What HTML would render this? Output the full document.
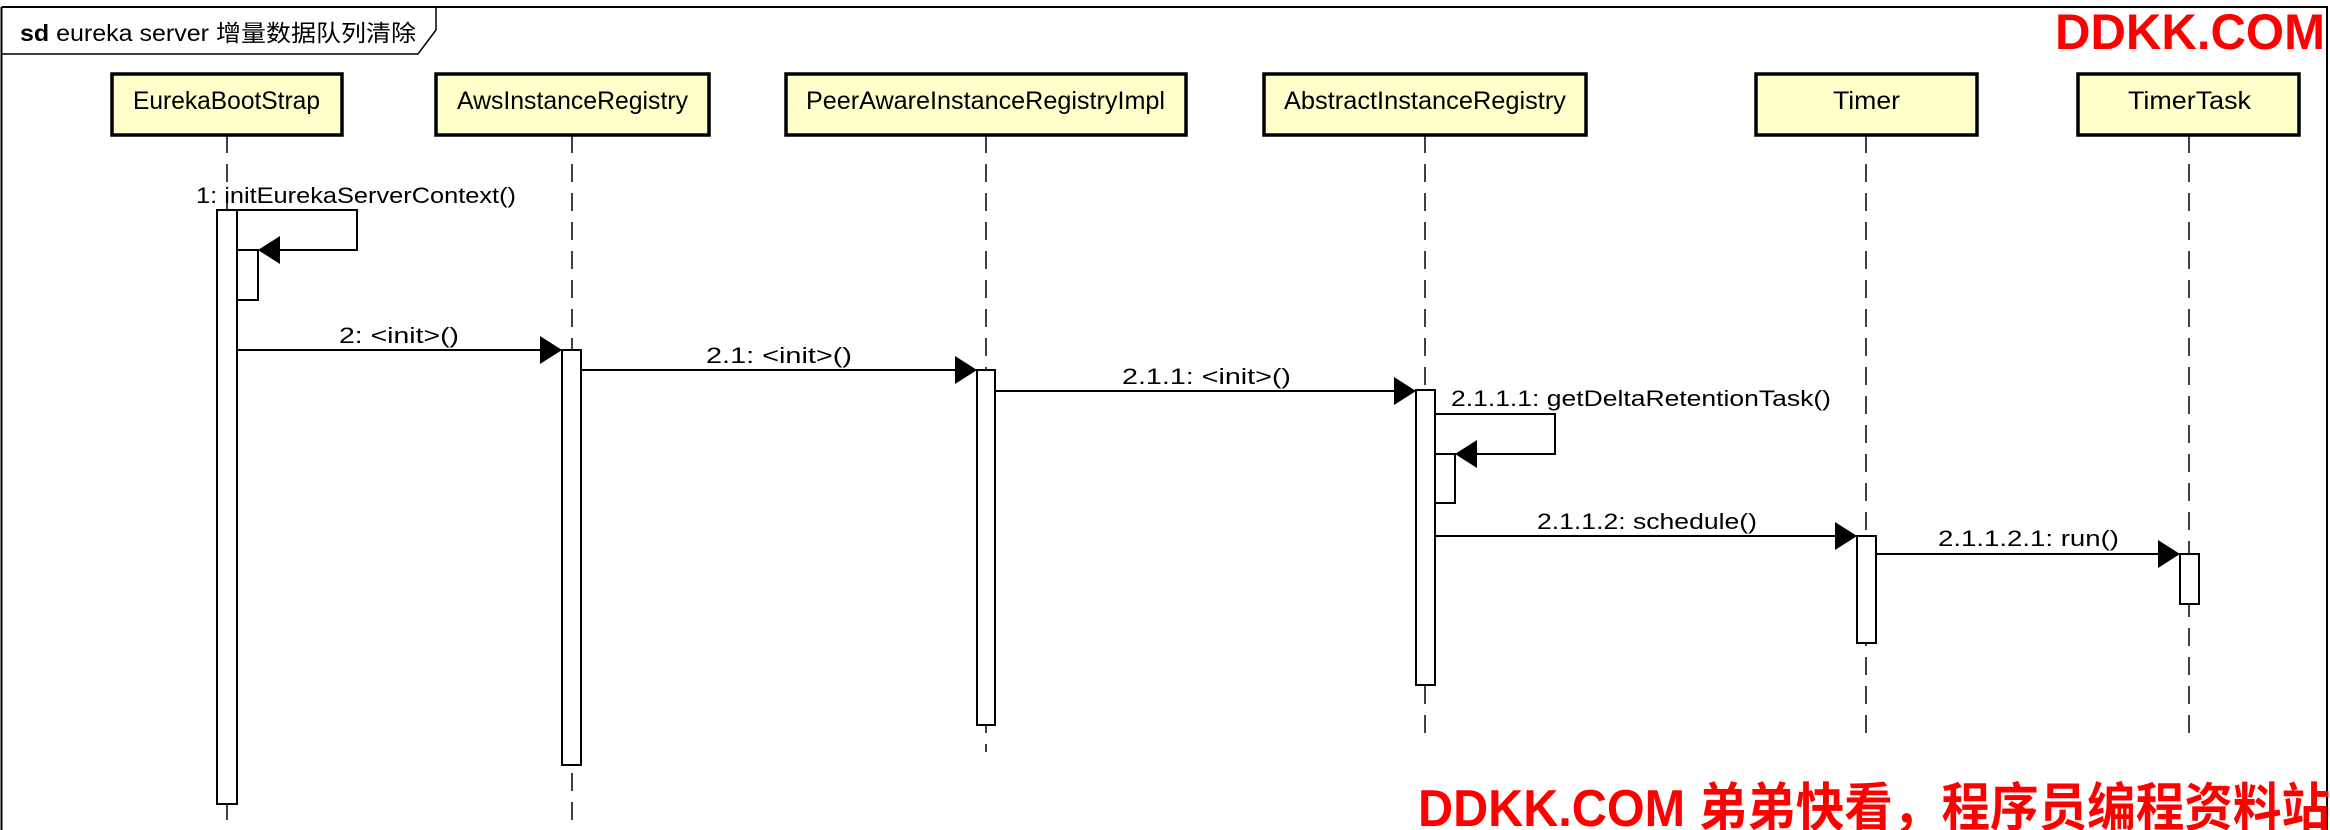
<!DOCTYPE html>
<html><head><meta charset="utf-8"><style>html,body{margin:0;padding:0;background:#fff}svg{display:block}</style></head>
<body>
<svg width="2330" height="830" viewBox="0 0 2330 830" xmlns="http://www.w3.org/2000/svg" font-family="'Liberation Sans','Noto Sans CJK SC',sans-serif">
<rect width="2330" height="830" fill="#fff"/>
<path d="M1.5 7 H2327 V840 M1.5 7 V840" fill="none" stroke="#000" stroke-width="2"/>
<path d="M1.5 54 H418 L436 30 V7" fill="none" stroke="#000" stroke-width="1.5"/>
<text x="20" y="41" font-size="23" textLength="396" lengthAdjust="spacingAndGlyphs"><tspan font-weight="bold">sd</tspan> eureka server 增量数据队列清除</text>

<g stroke="#000" stroke-width="1.5" stroke-dasharray="18,11" fill="none">
<line x1="227" y1="135" x2="227" y2="830"/>
<line x1="572" y1="135" x2="572" y2="830"/>
<line x1="986" y1="135" x2="986" y2="752"/>
<line x1="1425" y1="135" x2="1425" y2="735"/>
<line x1="1866" y1="135" x2="1866" y2="735"/>
<line x1="2189" y1="135" x2="2189" y2="735"/>
</g>

<g fill="#ffffcc" stroke="#000" stroke-width="3.5">
<rect x="112" y="74" width="230" height="61"/>
<rect x="436" y="74" width="273" height="61"/>
<rect x="786" y="74" width="400" height="61"/>
<rect x="1264" y="74" width="322" height="61"/>
<rect x="1756" y="74" width="221" height="61"/>
<rect x="2078" y="74" width="221" height="61"/>
</g>
<g font-size="25">
<text x="133" y="109" textLength="187" lengthAdjust="spacingAndGlyphs">EurekaBootStrap</text>
<text x="457" y="109" textLength="231" lengthAdjust="spacingAndGlyphs">AwsInstanceRegistry</text>
<text x="806" y="109" textLength="359" lengthAdjust="spacingAndGlyphs">PeerAwareInstanceRegistryImpl</text>
<text x="1284" y="109" textLength="282" lengthAdjust="spacingAndGlyphs">AbstractInstanceRegistry</text>
<text x="1833" y="109" textLength="67" lengthAdjust="spacingAndGlyphs">Timer</text>
<text x="2128" y="109" textLength="123" lengthAdjust="spacingAndGlyphs">TimerTask</text>
</g>

<g fill="#fff" stroke="#000" stroke-width="2">
<rect x="217" y="210" width="20" height="594"/>
<rect x="237" y="250" width="21" height="50"/>
<rect x="562" y="350" width="19" height="415"/>
<rect x="977" y="370" width="18" height="355"/>
<rect x="1416" y="390" width="19" height="295"/>
<rect x="1435" y="454" width="20" height="49"/>
<rect x="1857" y="536" width="19" height="107"/>
<rect x="2180" y="554" width="19" height="50"/>
</g>

<g stroke="#000" stroke-width="2" fill="none">
<polyline points="237,210 357,210 357,250 278,250"/>
<line x1="237" y1="350" x2="542" y2="350"/>
<line x1="581" y1="370" x2="957" y2="370"/>
<line x1="995" y1="391" x2="1396" y2="391"/>
<polyline points="1435,414 1555,414 1555,454 1475,454"/>
<line x1="1435" y1="536" x2="1837" y2="536"/>
<line x1="1876" y1="554" x2="2160" y2="554"/>
</g>
<g fill="#000">
<polygon points="258,250 280,236 280,264"/>
<polygon points="562,350 540,336 540,364"/>
<polygon points="977,370 955,356 955,384"/>
<polygon points="1416,391 1394,377 1394,405"/>
<polygon points="1455,454 1477,440 1477,468"/>
<polygon points="1857,536 1835,522 1835,550"/>
<polygon points="2180,554 2158,540 2158,568"/>
</g>
<g font-size="22">
<text x="196" y="203" textLength="320" lengthAdjust="spacingAndGlyphs">1: initEurekaServerContext()</text>
<text x="339" y="343" textLength="120" lengthAdjust="spacingAndGlyphs">2: &lt;init&gt;()</text>
<text x="706" y="363" textLength="146" lengthAdjust="spacingAndGlyphs">2.1: &lt;init&gt;()</text>
<text x="1122" y="384" textLength="169" lengthAdjust="spacingAndGlyphs">2.1.1: &lt;init&gt;()</text>
<text x="1451" y="406" textLength="380" lengthAdjust="spacingAndGlyphs">2.1.1.1: getDeltaRetentionTask()</text>
<text x="1537" y="529" textLength="220" lengthAdjust="spacingAndGlyphs">2.1.1.2: schedule()</text>
<text x="1938" y="546" textLength="181" lengthAdjust="spacingAndGlyphs">2.1.1.2.1: run()</text>
</g>

<text x="2055" y="49" font-size="50" font-weight="bold" fill="#ff0000" textLength="270" lengthAdjust="spacingAndGlyphs">DDKK.COM</text>
<text x="1418" y="826" font-size="52" font-weight="bold" fill="#ff0000" textLength="912" lengthAdjust="spacingAndGlyphs">DDKK.COM 弟弟快看，程序员编程资料站</text>
</svg>
</body></html>
